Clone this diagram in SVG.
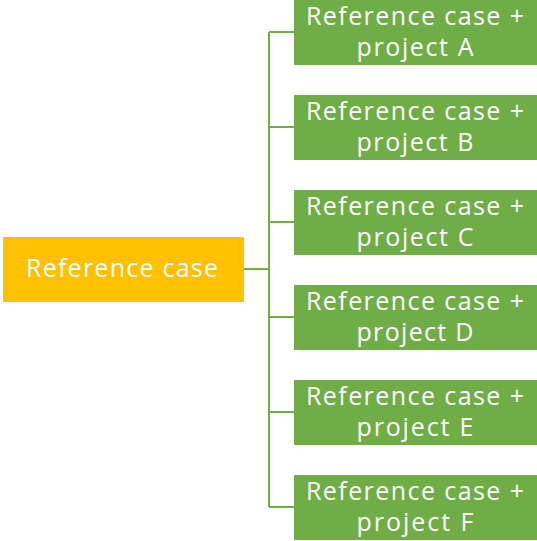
<svg xmlns="http://www.w3.org/2000/svg" width="537" height="541" viewBox="0 0 537 541">
  <style>
    .root { fill: #FFC000; }
    .leaf { fill: #70AD47; }
    .lbl { font-family: "Open Sans", "DejaVu Sans", sans-serif; font-size: 25px; fill: #FFFFFF; text-anchor: middle; }
    .wire { fill: none; stroke: #70AD47; stroke-width: 2; }
  </style>
  <rect width="537" height="541" fill="#FFFFFF"/>
  <g id="connectors">
    <path class="wire" d="M244 269 H269"/>
    <path class="wire" d="M269 32 V507"/>
    <path class="wire" d="M269 32 H294 M269 127 H294 M269 222 H294 M269 317 H294 M269 412 H294 M269 507 H294"/>
  </g>
  <g id="reference-case">
    <rect class="root" x="3" y="237" width="241" height="65"/>
    <text class="lbl" x="122" y="277" textLength="192" lengthAdjust="spacing">Reference case</text>
  </g>
  <g id="project-a">
    <rect class="leaf" x="294" y="0" width="243" height="65"/>
    <text class="lbl" x="415" y="24.5" textLength="218" lengthAdjust="spacing">Reference case +</text>
    <text class="lbl" x="415" y="56" textLength="117" lengthAdjust="spacing">project A</text>
  </g>
  <g id="project-b">
    <rect class="leaf" x="294" y="95" width="243" height="65"/>
    <text class="lbl" x="415" y="119.5" textLength="218" lengthAdjust="spacing">Reference case +</text>
    <text class="lbl" x="415" y="151" textLength="117" lengthAdjust="spacing">project B</text>
  </g>
  <g id="project-c">
    <rect class="leaf" x="294" y="190" width="243" height="65"/>
    <text class="lbl" x="415" y="214.5" textLength="218" lengthAdjust="spacing">Reference case +</text>
    <text class="lbl" x="415" y="246" textLength="117" lengthAdjust="spacing">project C</text>
  </g>
  <g id="project-d">
    <rect class="leaf" x="294" y="285" width="243" height="65"/>
    <text class="lbl" x="415" y="309.5" textLength="218" lengthAdjust="spacing">Reference case +</text>
    <text class="lbl" x="415" y="341" textLength="117" lengthAdjust="spacing">project D</text>
  </g>
  <g id="project-e">
    <rect class="leaf" x="294" y="380" width="243" height="65"/>
    <text class="lbl" x="415" y="404.5" textLength="218" lengthAdjust="spacing">Reference case +</text>
    <text class="lbl" x="415" y="436" textLength="117" lengthAdjust="spacing">project E</text>
  </g>
  <g id="project-f">
    <rect class="leaf" x="294" y="475" width="243" height="65"/>
    <text class="lbl" x="415" y="499.5" textLength="218" lengthAdjust="spacing">Reference case +</text>
    <text class="lbl" x="415" y="531" textLength="117" lengthAdjust="spacing">project F</text>
  </g>
</svg>
